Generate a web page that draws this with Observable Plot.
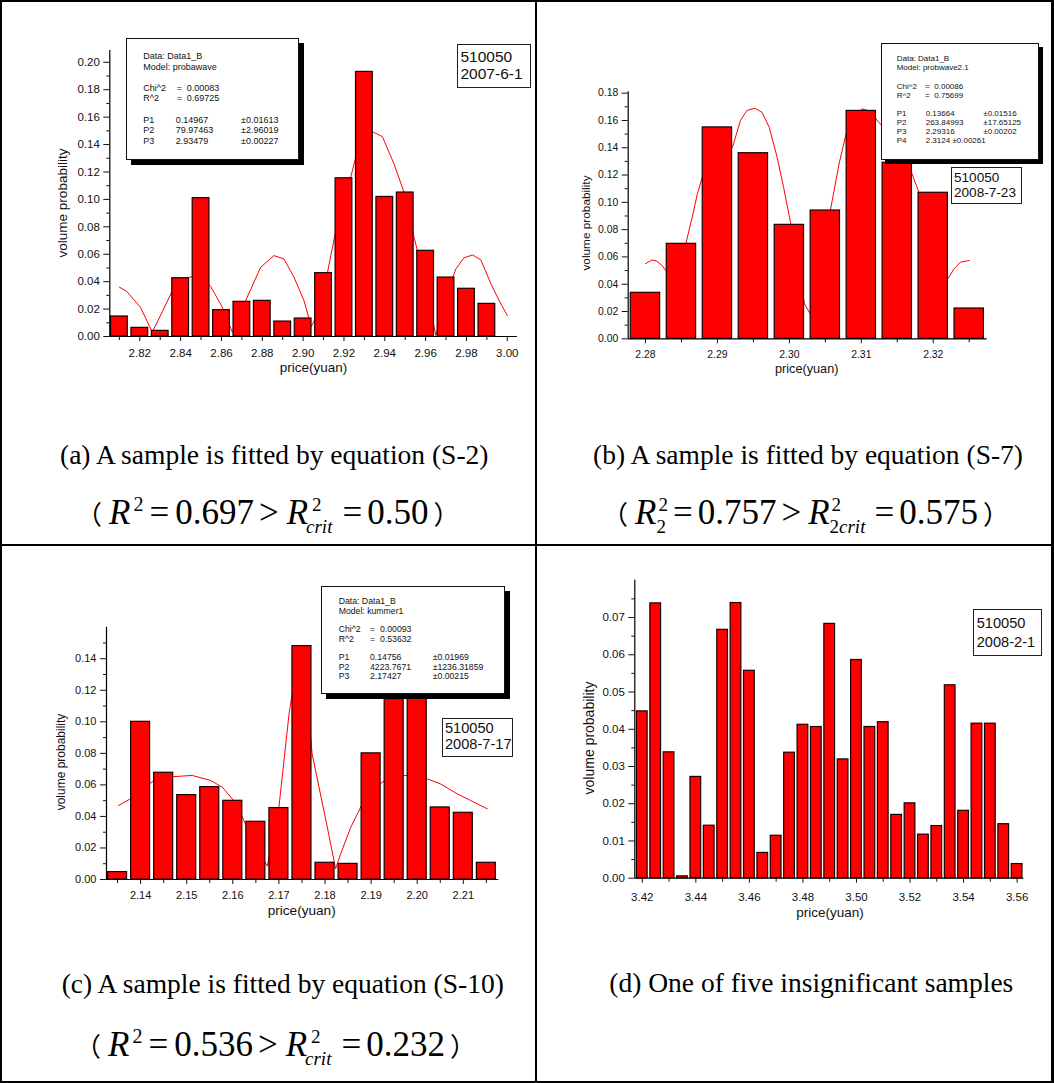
<!DOCTYPE html>
<html><head><meta charset="utf-8">
<script src="https://cdn.jsdelivr.net/npm/d3@7"></script>
<script src="https://cdn.jsdelivr.net/npm/@observablehq/plot@0.6"></script>
<style>
html,body{margin:0;padding:0;background:#fff}
#page{position:relative;width:1054px;height:1083px;overflow:hidden;background:#fff;font-family:"Liberation Sans",Arial,sans-serif;color:#000}
.plot{position:absolute}
.ln{position:absolute;background:#000;z-index:10}
.lbox{position:absolute;background:#fff;border:1px solid #111;z-index:3}
.idbox{position:absolute;background:#fff;border:1.5px solid #222;z-index:3;box-sizing:border-box}
.lt{position:absolute;white-space:nowrap;line-height:1;color:#111;transform:translateY(-50%);z-index:4}
.ttl{position:absolute;white-space:nowrap;line-height:1;color:#111;z-index:4}
.cap{position:absolute;white-space:nowrap;font-family:"Liberation Serif","Times New Roman",serif;font-size:27.5px;line-height:1;color:#000}
.fm{position:absolute;white-space:nowrap;font-family:"Liberation Serif","Times New Roman",serif;font-size:35px;line-height:1;color:#000}
.fm span,.fm i{display:inline-block}
.fm .cj{font-family:"Noto Sans CJK SC",sans-serif;font-size:26px}
.fm .s1{font-size:20px;position:relative;top:-13px;margin-left:3px}
.fm .pr{position:relative;font-size:19px;line-height:0.8}
.fm .pr .u{position:absolute;left:6px;top:-13px}
.fm .pr .d{position:relative;top:9px}
</style>
</head><body>
<div id="page"></div>
<script>
// ---------- data ----------
// (a) 510050 2007-6-1
const aPrice = [2.81,2.82,2.83,2.84,2.85,2.86,2.87,2.88,2.89,2.90,2.91,2.92,2.93,2.94,2.95,2.96,2.97,2.98,2.99];
const aProb  = [0.0146,0.0063,0.0041,0.0425,0.1009,0.0192,0.0253,0.0260,0.0109,0.0131,0.0462,0.1154,0.1930,0.1018,0.1050,0.0625,0.0430,0.0348,0.0238];
const aFitX = [2.8100,2.8135,2.8203,2.8261,2.8310,2.8358,2.8410,2.8457,2.8490,2.8547,2.8604,2.8653,2.8690,2.8726,2.8792,2.8857,2.8906,2.8955,2.9004,2.9040,2.9063,2.9119,2.9160,2.9233,2.9262,2.9300,2.9344,2.9388,2.9445,2.9494,2.9543,2.9560,2.9600,2.9650,2.9700,2.9748,2.9788,2.9830,2.9870,2.9920,2.9960,3.0000];
const aFitY = [0.0360,0.0330,0.0214,0.0032,0.0180,0.0330,0.0420,0.0437,0.0445,0.0365,0.0214,0.0032,0.0150,0.0287,0.0505,0.0590,0.0566,0.0433,0.0262,0.0073,0.0141,0.0464,0.0773,0.1162,0.1332,0.1480,0.1490,0.1458,0.1259,0.1053,0.0724,0.0627,0.0380,0.0007,0.0300,0.0493,0.0574,0.0595,0.0559,0.0384,0.0262,0.0153];
const aXTicks = [2.82,2.84,2.86,2.88,2.90,2.92,2.94,2.96,2.98,3.00];
const aXMinor = [2.81,2.83,2.85,2.87,2.89,2.91,2.93,2.95,2.97,2.99];
const aYTicks = [0,0.02,0.04,0.06,0.08,0.10,0.12,0.14,0.16,0.18,0.20];
const aYMinor = [0.01,0.03,0.05,0.07,0.09,0.11,0.13,0.15,0.17,0.19];

// (b) 510050 2008-7-23
const bPrice = [2.280,2.285,2.290,2.295,2.300,2.305,2.310,2.315,2.320,2.325];
const bProb  = [0.0337,0.0696,0.1549,0.1360,0.0835,0.0940,0.1670,0.1290,0.1070,0.0222];
const bFitX = [2.2800,2.2809,2.2816,2.2823,2.2830,2.2838,2.2856,2.2865,2.2872,2.2879,2.2900,2.2921,2.2932,2.2941,2.2952,2.2962,2.2972,2.2983,2.2992,2.3002,2.3021,2.3029,2.3043,2.3057,2.3069,2.3080,2.3101,2.3111,2.3135,2.3155,2.3169,2.3180,2.3198,2.3216,2.3221,2.3229,2.3238,2.3250];
const bFitY = [0.0550,0.0577,0.0569,0.0537,0.0489,0.0440,0.0696,0.0891,0.1060,0.1185,0.1320,0.1404,0.1600,0.1673,0.1690,0.1660,0.1550,0.1330,0.1110,0.0843,0.0256,0.0183,0.0560,0.0940,0.1280,0.1527,0.1685,0.1670,0.1520,0.1350,0.1230,0.1075,0.0750,0.0410,0.0445,0.0513,0.0562,0.0574];
const bXTicks = [2.28,2.29,2.30,2.31,2.32];
const bXMinor = [2.285,2.295,2.305,2.315,2.325];
const bYTicks = [0,0.02,0.04,0.06,0.08,0.10,0.12,0.14,0.16,0.18];
const bYMinor = [0.01,0.03,0.05,0.07,0.09,0.11,0.13,0.15,0.17];

// (c) 510050 2008-7-17
const cPrice = [2.135,2.140,2.145,2.150,2.155,2.160,2.165,2.170,2.175,2.180,2.185,2.190,2.195,2.200,2.205,2.210,2.215];
const cProb  = [0.0047,0.1000,0.0677,0.0535,0.0586,0.0499,0.0366,0.0453,0.1480,0.0106,0.0099,0.0800,0.1144,0.1250,0.0457,0.0423,0.0106];
const cFitX = [2.1352,2.1378,2.1429,2.1470,2.1512,2.1552,2.1577,2.1602,2.1617,2.1631,2.1655,2.1675,2.1689,2.1700,2.1722,2.1743,2.1760,2.1772,2.1790,2.1805,2.1823,2.1834,2.1856,2.1881,2.1924,2.1949,2.1978,2.2021,2.2050,2.2087,2.2116,2.2152];
const cFitY = [0.0469,0.0512,0.0628,0.0652,0.0660,0.0628,0.0586,0.0501,0.0417,0.0332,0.0180,0.0085,0.0332,0.0459,0.1050,0.1450,0.1200,0.0797,0.0543,0.0332,0.0068,0.0163,0.0332,0.0480,0.0617,0.0653,0.0660,0.0639,0.0607,0.0543,0.0501,0.0448];
const cXTicks = [2.14,2.15,2.16,2.17,2.18,2.19,2.20,2.21];
const cXMinor = [2.135,2.145,2.155,2.165,2.175,2.185,2.195,2.205,2.215];
const cYTicks = [0,0.02,0.04,0.06,0.08,0.10,0.12,0.14];
const cYMinor = [0.01,0.03,0.05,0.07,0.09,0.11,0.13,0.15];

// (d) 510050 2008-2-1
const dPrice = [3.420,3.425,3.430,3.435,3.440,3.445,3.450,3.455,3.460,3.465,3.470,3.475,3.480,3.485,3.490,3.495,3.500,3.505,3.510,3.515,3.520,3.525,3.530,3.535,3.540,3.545,3.550,3.555,3.560];
const dProb  = [0.0448,0.0738,0.0338,0.0005,0.0272,0.0141,0.0667,0.0739,0.0557,0.0068,0.0114,0.0337,0.0412,0.0406,0.0683,0.0319,0.0586,0.0406,0.0419,0.0170,0.0201,0.0117,0.0140,0.0518,0.0181,0.0415,0.0415,0.0145,0.0038];
const dXTicks = [3.42,3.44,3.46,3.48,3.50,3.52,3.54,3.56];
const dXMinor = [3.43,3.45,3.47,3.49,3.51,3.53,3.55];
const dYTicks = [0,0.01,0.02,0.03,0.04,0.05,0.06,0.07];
const dYMinor = [0.005,0.015,0.025,0.035,0.045,0.055,0.065,0.075];

// ---------- drawing ----------
const page = document.getElementById("page");
const fmt2 = d3.format(".2f");
const RED = "#ff0000";

function panel(c) {
  const bars = c.xs.map((x, i) => ({x, y: c.ys[i]}));
  const fit = c.fx ? c.fx.map((x, i) => ({x, y: c.fy[i]})) : [];
  const marks = [];
  if (fit.length) marks.push(Plot.line(fit, {x: "x", y: "y", stroke: RED, strokeWidth: 1}));
  marks.push(
    Plot.rectY(bars, {x1: d => d.x - c.half, x2: d => d.x + c.half, y1: 0, y2: "y",
      fill: RED, stroke: "#1a0000", strokeWidth: 1.2}),
    Plot.ruleX([c.xDom[0]], {stroke: "#000", strokeWidth: 1.2}),
    Plot.ruleY([0], {stroke: "#000", strokeWidth: 1.2}),
    Plot.axisX(c.xT, {tickSize: 5, tickPadding: c.xPad, tickFormat: fmt2, fontSize: c.fs, label: null}),
    Plot.axisX(c.xM, {tickSize: 4, text: null, label: null}),
    Plot.axisY(c.yT, {tickSize: 6, tickPadding: 4, tickFormat: fmt2, fontSize: c.fs, label: null}),
    Plot.axisY(c.yM, {tickSize: 3, text: null, label: null})
  );
  const chart = Plot.plot({
    width: c.w, height: c.h,
    marginLeft: c.mL, marginRight: c.mR, marginTop: c.mT, marginBottom: c.mB,
    x: {domain: c.xDom, axis: null},
    y: {domain: c.yDom, axis: null},
    style: {fontFamily: '"Liberation Sans", Arial, sans-serif', fontSize: c.fs + "px", background: "transparent", color: "#111", overflow: "visible"},
    marks
  });
  const wrap = document.createElement("div");
  wrap.className = "plot";
  wrap.style.left = c.left + "px";
  wrap.style.top = c.top + "px";
  wrap.appendChild(chart);
  page.appendChild(wrap);
}

function el(cls, css, html) {
  const d = document.createElement("div");
  d.className = cls;
  Object.assign(d.style, css);
  if (html != null) d.innerHTML = html;
  page.appendChild(d);
  return d;
}
function lt(x, y, s, fs) { el("lt", {left: x + "px", top: y + "px", fontSize: fs + "px"}).textContent = s; }
function xTitle(cx, cy, s, fs) {
  el("ttl", {left: cx + "px", top: cy + "px", fontSize: fs + "px", transform: "translate(-50%,-50%)"}).textContent = s;
}
function yTitle(cx, cy, s, fs) {
  el("ttl", {left: cx + "px", top: cy + "px", fontSize: fs + "px", transform: "translate(-50%,-50%) rotate(-90deg)"}).textContent = s;
}
function legendBox(x1, y1, x2, y2, sh) {
  el("lbox", {left: x1 + "px", top: y1 + "px", width: (x2 - x1) + "px", height: (y2 - y1) + "px", boxShadow: sh + "px " + sh + "px 0 #000"});
}
function idBox(x1, y1, x2, y2, tx, l1, y1c, l2, y2c, fs) {
  el("idbox", {left: x1 + "px", top: y1 + "px", width: (x2 - x1) + "px", height: (y2 - y1) + "px"});
  lt(tx, y1c, l1, fs); lt(tx, y2c, l2, fs);
}

// panel (a)
panel({left: 0, top: 0, w: 535, h: 400, mL: 109.3, mR: 18, mT: 50, mB: 64,
  xDom: [2.8053, 3.005], yDom: [0, 0.2086], xs: aPrice, ys: aProb, half: 0.0041,
  fx: aFitX, fy: aFitY, xT: aXTicks, xM: aXMinor, yT: aYTicks, yM: aYMinor, fs: 11.5, xPad: 7});
// panel (b)
panel({left: 537, top: 0, w: 517, h: 400, mL: 90.7, mR: 67.3, mT: 91.3, mB: 61.7,
  xDom: [2.2776, 2.3275], yDom: [0, 0.181], xs: bPrice, ys: bProb, half: 0.00204,
  fx: bFitX, fy: bFitY, xT: bXTicks, xM: bXMinor, yT: bYTicks, yM: bYMinor, fs: 10.4, xPad: 7});
// panel (c)
panel({left: 0, top: 546, w: 535, h: 400, mL: 106, mR: 36.7, mT: 80.7, mB: 67,
  xDom: [2.1326, 2.2177], yDom: [0, 0.16], xs: cPrice, ys: cProb, half: 0.00206,
  fx: cFitX, fy: cFitY, xT: cXTicks, xM: cXMinor, yT: cYTicks, yM: cYMinor, fs: 11, xPad: 7});
// panel (d)
panel({left: 537, top: 546, w: 517, h: 400, mL: 97.3, mR: 30.7, mT: 33.8, mB: 68.3,
  xDom: [3.4172, 3.5625], yDom: [0, 0.08], xs: dPrice, ys: dProb, half: 0.002,
  fx: null, fy: null, xT: dXTicks, xM: dXMinor, yT: dYTicks, yM: dYMinor, fs: 11.5, xPad: 10});

// axis titles
yTitle(63.3, 203.3, "volume probability", 13.5);
xTitle(313.5, 368, "price(yuan)", 13.5);
yTitle(586.7, 223.3, "volume probability", 11.8);
xTitle(806.7, 369.3, "price(yuan)", 12.7);
yTitle(60.7, 761.7, "volume probability", 12);
xTitle(301.7, 910.7, "price(yuan)", 13.6);
yTitle(589.3, 738.3, "volume probability", 14);
xTitle(830, 913.3, "price(yuan)", 13.5);

// legend (a)
legendBox(126, 38.3, 296.7, 158.3, 5);
[["Data: Data1_B", 56], ["Model: probawave", 67]].forEach(([s, y]) => lt(143.3, y, s, 9));
lt(143.3, 88, "Chi^2", 9); lt(176.7, 88, "=", 9); lt(186.7, 88, "0.00083", 9);
lt(143.3, 98, "R^2", 9);   lt(176.7, 98, "=", 9); lt(186.7, 98, "0.69725", 9);
lt(143.3, 120, "P1", 9); lt(175.7, 120, "0.14967", 9);  lt(241, 120, "±0.01613", 9);
lt(143.3, 130, "P2", 9); lt(175.7, 130, "79.97463", 9); lt(241, 130, "±2.96019", 9);
lt(143.3, 141, "P3", 9); lt(175.7, 141, "2.93479", 9);  lt(241, 141, "±0.00227", 9);

// legend (b)
legendBox(881, 43.3, 1036.7, 158.3, 4);
lt(896.7, 59.3, "Data: Data1_B", 8); lt(896.7, 68.3, "Model: probwave2.1", 8);
lt(896.7, 87.3, "Chi^2", 8); lt(925, 87.3, "=", 8); lt(934.3, 87.3, "0.00086", 8);
lt(896.7, 96.3, "R^2", 8);   lt(925, 96.3, "=", 8); lt(934.3, 96.3, "0.75699", 8);
lt(896.7, 114.3, "P1", 8); lt(925.7, 114.3, "0.13664", 8);   lt(983.3, 114.3, "±0.01516", 8);
lt(896.7, 123.3, "P2", 8); lt(925.7, 123.3, "263.84993", 8); lt(983.3, 123.3, "±17.65125", 8);
lt(896.7, 132.3, "P3", 8); lt(925.7, 132.3, "2.29316", 8);   lt(983.3, 132.3, "±0.00202", 8);
lt(896.7, 141.3, "P4", 8); lt(925.7, 141.3, "2.3124  ±0.00261", 8);

// legend (c)
legendBox(320.7, 586, 502.7, 691.7, 5);
lt(338.7, 601.3, "Data: Data1_B", 8.7); lt(338.7, 611.3, "Model: kummer1", 8.7);
lt(338.7, 629.3, "Chi^2", 8.7); lt(370, 629.3, "=", 8.7); lt(380, 629.3, "0.00093", 8.7);
lt(338.7, 639.3, "R^2", 8.7);   lt(370, 639.3, "=", 8.7); lt(380, 639.3, "0.53632", 8.7);
lt(338.7, 657.3, "P1", 8.7); lt(370, 657.3, "0.14756", 8.7);   lt(432.7, 657.3, "±0.01969", 8.7);
lt(338.7, 667.3, "P2", 8.7); lt(370, 667.3, "4223.7671", 8.7); lt(432.7, 667.3, "±1236.31859", 8.7);
lt(338.7, 676.3, "P3", 8.7); lt(370, 676.3, "2.17427", 8.7);   lt(432.7, 676.3, "±0.00215", 8.7);

// id boxes
idBox(457.3, 44.3, 531, 88, 460.5, "510050", 56.7, "2007-6-1", 74.3, 15.5);
idBox(950.7, 166.7, 1022.3, 204, 954, "510050", 177.7, "2008-7-23", 192.7, 13.6);
idBox(441.7, 717.7, 513.3, 756.7, 445, "510050", 728.3, "2008-7-17", 744.3, 14.6);
idBox(973.3, 609.3, 1042.3, 655.7, 976.7, "510050", 622.7, "2008-2-1", 641.7, 14.6);

// captions
el("cap", {left: "60px", top: "441px"}).textContent = "(a) A sample is fitted by equation (S-2)";
el("cap", {left: "593px", top: "441px"}).textContent = "(b) A sample is fitted by equation (S-7)";
el("cap", {left: "61.7px", top: "970px"}).textContent = "(c) A sample is fitted by equation (S-10)";
el("cap", {left: "609.3px", top: "969px"}).textContent = "(d) One of five insignificant samples";

// formulas
function simpleR2(v1, v2) {
  return '<span class="cj">（</span><i style="margin-left:7px">R</i><span class="s1">2</span>' +
    '<span style="margin-left:6px">=</span><span style="margin-left:6px">' + v1 + '</span>' +
    '<span style="margin-left:5px">&gt;</span><i style="margin-left:8px">R</i>' +
    '<span class="pr" style="margin-left:-2px"><span class="u">2</span><span class="d"><i>crit</i></span></span>' +
    '<span style="margin-left:10px">=</span><span style="margin-left:5px">' + v2 + '</span>' +
    '<span class="cj" style="margin-left:5px">）</span>';
}
el("fm", {left: "76px", top: "495px"}, simpleR2("0.697", "0.50"));
el("fm", {left: "75px", top: "1027px"}, simpleR2("0.536", "0.232"));
el("fm", {left: "602px", top: "495px"},
  '<span class="cj">（</span><i style="margin-left:7px">R</i>' +
  '<span class="pr" style="margin-left:0px"><span class="u" style="left:2px">2</span><span class="d">2</span></span>' +
  '<span style="margin-left:7px">=</span><span style="margin-left:5px">0.757</span>' +
  '<span style="margin-left:5px">&gt;</span><i style="margin-left:7px">R</i>' +
  '<span class="pr" style="margin-left:0px"><span class="u" style="left:2px">2</span><span class="d">2<i>crit</i></span></span>' +
  '<span style="margin-left:9px">=</span><span style="margin-left:5px">0.575</span>' +
  '<span class="cj" style="margin-left:5px">）</span>');

// table rules
[[0, 0, 1054, 2], [0, 1081, 1054, 2], [0, 0, 2, 1083], [1051, 0, 3, 1083], [535, 0, 2, 1083], [0, 544, 1054, 2]]
  .forEach(([x, y, w, h]) => el("ln", {left: x + "px", top: y + "px", width: w + "px", height: h + "px"}));
</script>
</body></html>
